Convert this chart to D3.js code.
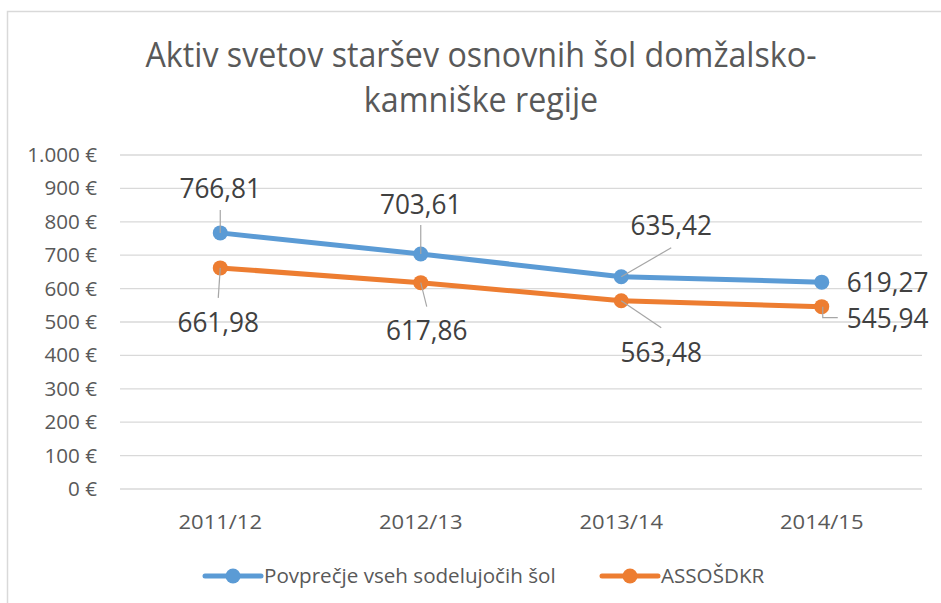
<!DOCTYPE html>
<html>
<head>
  <meta charset="utf-8">
  <title>Aktiv svetov staršev</title>
  <style>
    body { margin: 0; background: white; font-family: "Open Sans", sans-serif; }
    .grid line { stroke: #d9d9d9; stroke-width: 1.3; }
    .tick-label { fill: #595959; font-size: 20px; }
    .data-label { fill: #404040; font-size: 27px; }
    .leader { stroke: #a6a6a6; stroke-width: 1.2; fill: none; }
  </style>
</head>
<body>
  <div id="chart"></div>
  <script src="https://d3js.org/d3.v7.min.js"></script>
  <script>
    // chart data
    var categories = ["2011/12", "2012/13", "2013/14", "2014/15"]
    var seriesNames = ["Povprečje vseh sodelujočih šol", "ASSOŠDKR"]
    var avgValues = [766.81, 703.61, 635.42, 619.27]
    var assoValues = [661.98, 617.86, 563.48, 545.94]
    var yTicks = [0, 100, 200, 300, 400, 500, 600, 700, 800, 900, 1000]
    var titleLines = ["Aktiv svetov staršev osnovnih šol domžalsko-", "kamniške regije"]

    var colors = ["#5b9bd5", "#ed7d31"]

    // label placement relative to the point: [dx, dy of baseline, anchor, leader end dx, dy]
    var labelLayout = [
      [[0, -35, "middle", 0, -23], [0, -40, "middle", 0, -29], [50, -42, "middle", 50, -29], [25, 10, "start", null]],
      [[-2, 64, "middle", -2, 30], [6, 57, "middle", 6, 24], [40, 61, "middle", 40, 27], [25, 21, "start", "elbow"]]
    ]

    var width = 941, height = 603

    var svg = d3.select("#chart").append("svg")
      .attr("width", width)
      .attr("height", height)

    // chart border (only left and top visible)
    svg.append("rect")
      .attr("x", 7.5).attr("y", 11.5)
      .attr("width", 960).attr("height", 620)
      .attr("fill", "none").attr("stroke", "#d9d9d9").attr("stroke-width", 1.5)

    var x = d3.scaleBand().domain(categories).range([120, 922])
    var y = d3.scaleLinear().domain([0, 1000]).range([489, 155])

    // the reference text has slightly different widths than Open Sans
    function squish(k) {
      return function(sel) {
        sel.each(function() {
          var w = this.getComputedTextLength()
          d3.select(this).attr("textLength", w * k).attr("lengthAdjust", "spacingAndGlyphs")
        })
      }
    }

    // title
    svg.append("g").selectAll("text")
      .data(titleLines).enter().append("text")
      .attr("x", 481)
      .attr("y", function(d, i) { return 67 + i * 45 })
      .attr("text-anchor", "middle")
      .attr("fill", "#595959")
      .style("font-size", "35px")
      .text(function(d) { return d })
      .call(squish(0.92))

    // gridlines
    svg.append("g").attr("class", "grid")
      .selectAll("line").data(yTicks).enter().append("line")
      .attr("x1", 120).attr("x2", 922)
      .attr("y1", function(d) { return y(d) }).attr("y2", function(d) { return y(d) })

    // y axis labels
    var fmt = d3.formatLocale({ decimal: ",", thousands: ".", grouping: [3], currency: ["", " €"] }).format("$,")
    svg.append("g").selectAll("text")
      .data(yTicks).enter().append("text")
      .attr("class", "tick-label")
      .attr("x", 97)
      .attr("y", function(d) { return y(d) + 7 })
      .attr("text-anchor", "end")
      .text(function(d) { return fmt(d) })
      .call(squish(1.03))

    // x axis labels
    svg.append("g").selectAll("text")
      .data(categories).enter().append("text")
      .attr("class", "tick-label")
      .attr("x", function(d) { return x(d) + x.bandwidth() / 2 })
      .attr("y", 529)
      .attr("text-anchor", "middle")
      .text(function(d) { return d })
      .call(squish(1.1))

    var line = d3.line()
      .x(function(d, i) { return x(categories[i]) + x.bandwidth() / 2 })
      .y(function(d) { return y(d) })

    var allSeries = [avgValues, assoValues]

    allSeries.forEach(function(values, s) {
      var g = svg.append("g")

      g.append("path")
        .datum(values)
        .attr("d", line)
        .attr("fill", "none")
        .attr("stroke", colors[s])
        .attr("stroke-width", 5)
        .attr("stroke-linejoin", "round")
        .attr("stroke-linecap", "round")

      g.selectAll("circle").data(values).enter().append("circle")
        .attr("cx", function(d, i) { return x(categories[i]) + x.bandwidth() / 2 })
        .attr("cy", function(d) { return y(d) })
        .attr("r", 7.5)
        .attr("fill", colors[s])

      // leader lines
      values.forEach(function(v, i) {
        var lay = labelLayout[s][i]
        var px = x(categories[i]) + x.bandwidth() / 2, py = y(v)
        if (lay[4] === undefined) {
          if (lay[3] === "elbow") {
            g.append("path").attr("class", "leader")
              .attr("d", "M" + (px + 1) + "," + py + "V" + (py + 11) + "H" + (px + 16))
          }
          return
        }
        g.append("line").attr("class", "leader")
          .attr("x1", px).attr("y1", py)
          .attr("x2", px + lay[3]).attr("y2", py + lay[4])
      })

      g.selectAll("text").data(values).enter().append("text")
        .attr("class", "data-label")
        .attr("x", function(d, i) { return x(categories[i]) + x.bandwidth() / 2 + labelLayout[s][i][0] })
        .attr("y", function(d, i) { return y(d) + labelLayout[s][i][1] })
        .attr("text-anchor", function(d, i) { return labelLayout[s][i][2] })
        .text(function(d) { return d3.format(".2f")(d).replace(".", ",") })
        .call(squish(0.97))
    })

    // legend
    var legendX = [205, 602]
    var legend = svg.append("g").selectAll("g")
      .data(seriesNames).enter().append("g")
      .attr("transform", function(d, i) { return "translate(" + legendX[i] + ",576)" })

    legend.append("line")
      .attr("x1", 0).attr("x2", 56)
      .attr("stroke", function(d, i) { return colors[i] })
      .attr("stroke-width", 5)
      .attr("stroke-linecap", "round")

    legend.append("circle")
      .attr("cx", 28).attr("r", 7.5)
      .attr("fill", function(d, i) { return colors[i] })

    legend.append("text")
      .attr("class", "tick-label")
      .attr("x", 59).attr("y", 7)
      .text(function(d) { return d })
      .call(squish(1.03))
  </script>
</body>
</html>
